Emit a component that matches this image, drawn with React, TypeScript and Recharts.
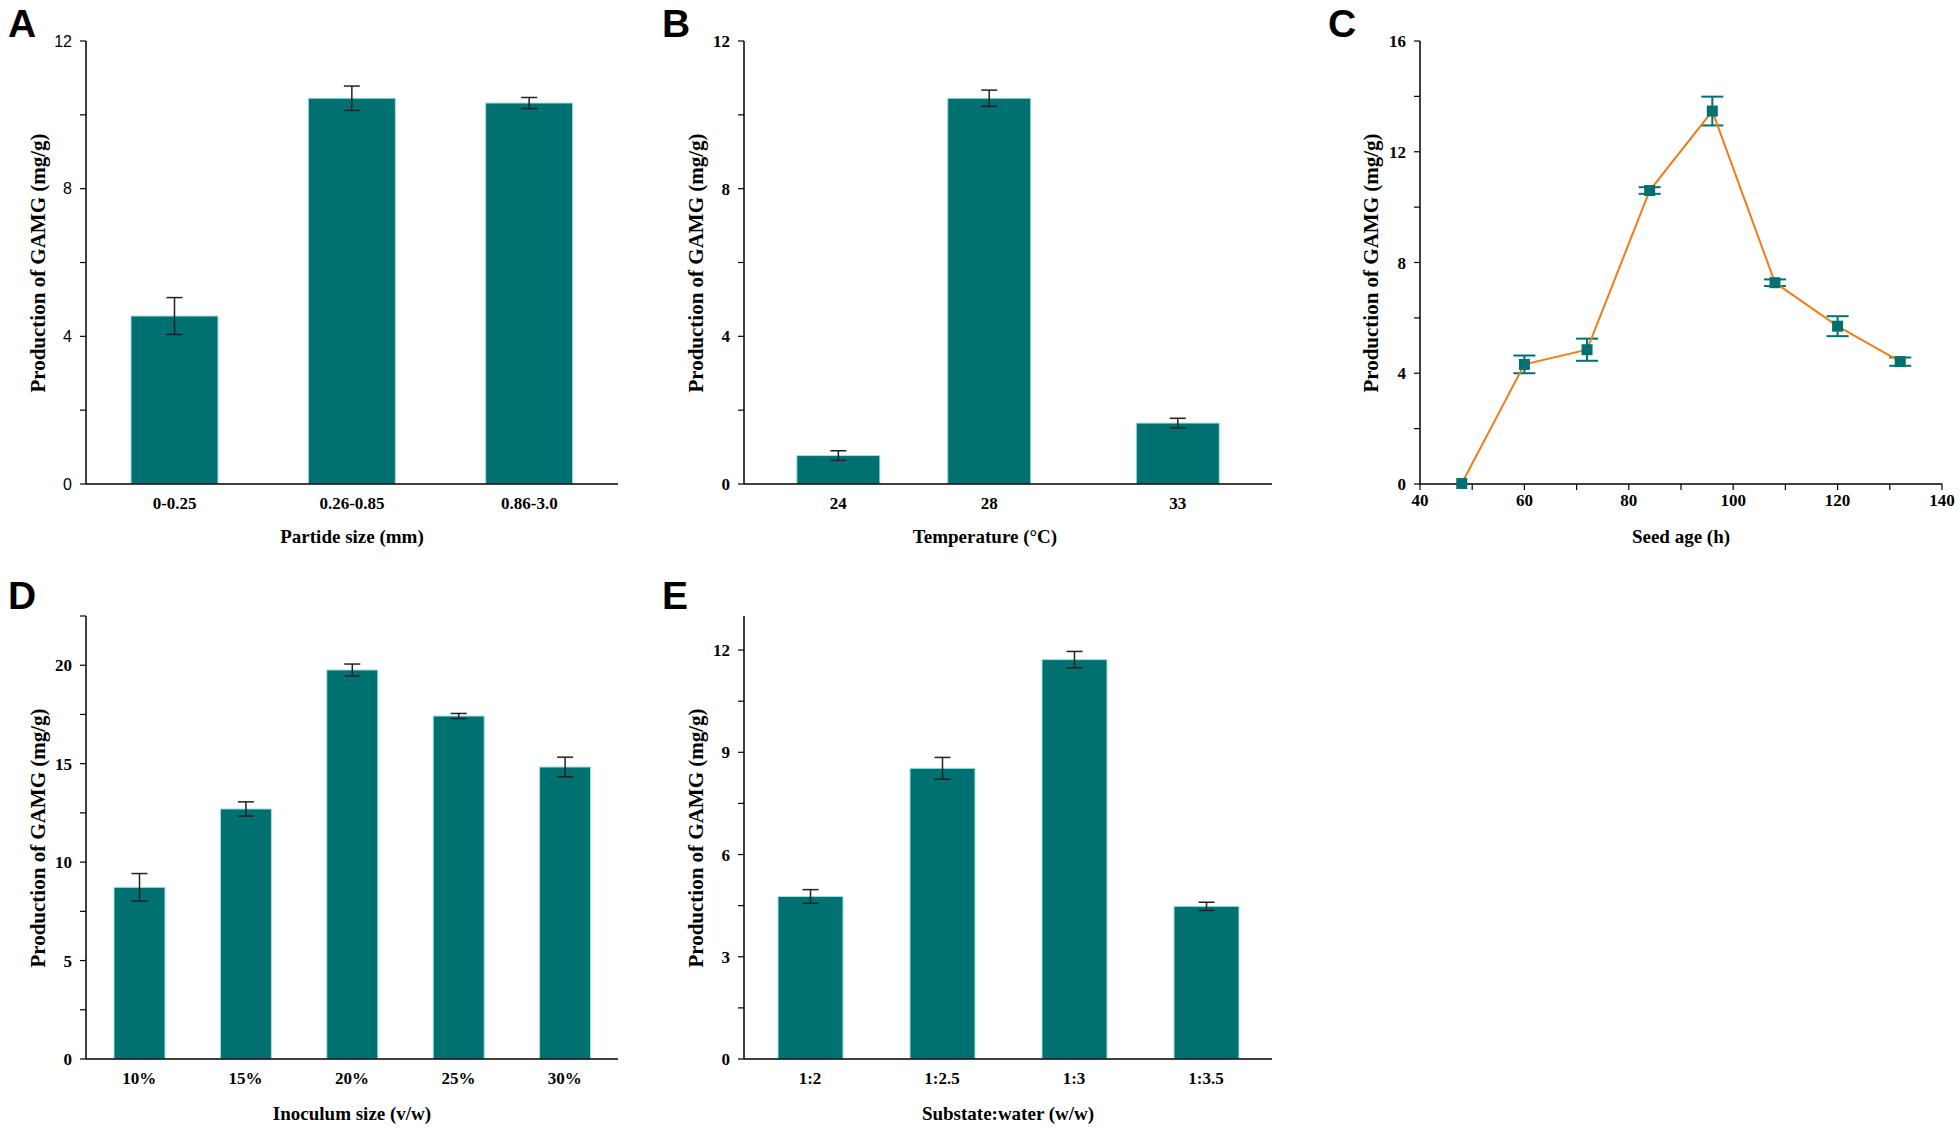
import React from "react"
import { Bar, BarChart, ErrorBar, Line, LineChart, XAxis, YAxis } from "recharts"

const TEAL = "#007070"
const ORANGE = "#f07d19"
const SERIF = '"Liberation Serif", "Times New Roman", serif'
const SANS = '"Liberation Sans", Arial, sans-serif'

// A – particle size
const sizeCats = ["0-0.25", "0.26-0.85", "0.86-3.0"]
const sizeValues = [4.55, 10.45, 10.32]
const sizeErr = [0.5, 0.33, 0.15]
const sizeTicks = [0, 2, 4, 6, 8, 10, 12]

// B – temperature (numeric axis)
const temps = [24, 28, 33]
const tempValues = [0.77, 10.45, 1.65]
const tempErr = [0.13, 0.22, 0.13]
const tempTicks = [24, 28, 33]

// C – seed age
const ages = [48, 60, 72, 84, 96, 108, 120, 132]
const ageValues = [0.02, 4.32, 4.85, 10.6, 13.47, 7.27, 5.7, 4.42]
const ageErr = [0, 0.32, 0.4, 0.12, 0.52, 0.12, 0.36, 0.15]
const ageTicks = [40, 50, 60, 70, 80, 90, 100, 110, 120, 130, 140]
const ageYTicks = [0, 2, 4, 6, 8, 10, 12, 14, 16]

// D – inoculum size
const inocCats = ["10%", "15%", "20%", "25%", "30%"]
const inocValues = [8.72, 12.7, 19.76, 17.42, 14.83]
const inocErr = [0.7, 0.36, 0.3, 0.13, 0.5]
const inocTicks = [0, 2.5, 5, 7.5, 10, 12.5, 15, 17.5, 20, 22.5]

// E – substrate:water
const ratioCats = ["1:2", "1:2.5", "1:3", "1:3.5"]
const ratioValues = [4.77, 8.53, 11.72, 4.48]
const ratioErr = [0.2, 0.32, 0.24, 0.12]
const ratioTicks = [0, 1.5, 3, 4.5, 6, 7.5, 9, 10.5, 12]

const Y_TITLE = "Production of GAMG (mg/g)"

// plot rectangles (page px)
const TOP = { y0: 41, y1: 484 }
const BOT = { y0: 616, y1: 1059 }
const COL_A = { x0: 86, x1: 618 }
const COL_B = { x0: 744, x1: 1272 }
const COL_C = { x0: 1420, x1: 1942 }

const PAD_L = 80
const PAD_T = 20
const PAD_R = 10
const PAD_B = 40
const Y_W = 60
const X_H = 30

type Box = { x0: number; x1: number; y0: number; y1: number }

function frame(b: Box) {
  return {
    style: { position: "absolute" as const, left: b.x0 - PAD_L, top: b.y0 - PAD_T },
    width: b.x1 - b.x0 + PAD_L + PAD_R,
    height: b.y1 - b.y0 + PAD_T + PAD_B,
    margin: { top: PAD_T, left: PAD_L - Y_W, right: PAD_R, bottom: PAD_B - X_H },
  }
}

const axisLine = { stroke: "#000", strokeWidth: 1.5 }
const boldTick = { fill: "#000", fontFamily: SERIF, fontWeight: 700, fontSize: 17 }
const sansTick = { fill: "#000", fontFamily: SANS, fontSize: 16 }

const every = (step: number) => (v: number) =>
  Math.abs(v / step - Math.round(v / step)) < 1e-6 ? String(v) : ""

function BarPanel({
  box,
  data,
  yMax,
  yTicks,
  step,
  yTick,
  numericX,
  barSize,
}: {
  box: Box
  data: { x: string | number; value: number; err: number }[]
  yMax: number
  yTicks: number[]
  step: number
  yTick: object
  numericX?: { domain: [number, number]; ticks: number[] }
  barSize: number
}) {
  const f = frame(box)
  return (
    <div style={f.style}>
      <BarChart width={f.width} height={f.height} data={data} margin={f.margin}>
        {numericX ? (
          <XAxis
            dataKey="x"
            type="number"
            domain={numericX.domain}
            ticks={numericX.ticks}
            interval={0}
            height={X_H}
            axisLine={axisLine}
            tickLine={false}
            tickMargin={7}
            tick={boldTick}
            allowDataOverflow
          />
        ) : (
          <XAxis
            dataKey="x"
            height={X_H}
            axisLine={axisLine}
            tickLine={false}
            tickMargin={7}
            tick={boldTick}
            interval={0}
          />
        )}
        <YAxis
          type="number"
          domain={[0, yMax]}
          ticks={yTicks}
          interval={0}
          width={Y_W}
          axisLine={axisLine}
          tickLine={{ stroke: "#000", strokeWidth: 1.2 }}
          tickSize={6}
          tickMargin={8}
          tick={yTick}
          tickFormatter={every(step)}
          allowDataOverflow
        />
        <Bar dataKey="value" fill={TEAL} stroke="#9fe3e3" strokeWidth={1} barSize={barSize} isAnimationActive={false}>
          <ErrorBar dataKey="err" width={8} stroke="#222" strokeWidth={1.5} direction="y" />
        </Bar>
      </BarChart>
    </div>
  )
}

function SeedAgePanel() {
  const data = ages.map((a, i) => ({ x: a, value: ageValues[i], err: ageErr[i] }))
  const f = frame({ ...COL_C, ...TOP })
  return (
    <div style={f.style}>
      <LineChart width={f.width + 16} height={f.height} data={data} margin={{ ...f.margin, right: PAD_R + 16 }}>
        <XAxis
          dataKey="x"
          type="number"
          domain={[40, 140]}
          ticks={ageTicks}
          interval={0}
          height={X_H}
          axisLine={axisLine}
          tickLine={{ stroke: "#000", strokeWidth: 1.2 }}
          tickSize={6}
          tickMargin={4}
          tick={boldTick}
          tickFormatter={every(20)}
        />
        <YAxis
          type="number"
          domain={[0, 16]}
          ticks={ageYTicks}
          interval={0}
          width={Y_W}
          axisLine={axisLine}
          tickLine={{ stroke: "#000", strokeWidth: 1.2 }}
          tickSize={6}
          tickMargin={8}
          tick={boldTick}
          tickFormatter={every(4)}
        />
        <Line
          dataKey="value"
          stroke={ORANGE}
          strokeWidth={2}
          isAnimationActive={false}
          dot={(p: any) => (
            <rect key={p.index} x={p.cx - 5.5} y={p.cy - 5.5} width={11} height={11} fill={TEAL} />
          )}
        >
          <ErrorBar dataKey="err" width={11} stroke={TEAL} strokeWidth={2} direction="y" />
        </Line>
      </LineChart>
    </div>
  )
}

const letters = [
  { t: "A", x: 8, y: 37 },
  { t: "B", x: 662, y: 37 },
  { t: "C", x: 1328, y: 37 },
  { t: "D", x: 8, y: 609 },
  { t: "E", x: 662, y: 609 },
]

const xTitles = [
  { t: "Partide size (mm)", x: 352, y: 543 },
  { t: "Temperature (°C)", x: 985, y: 543 },
  { t: "Seed age (h)", x: 1681, y: 543 },
  { t: "Inoculum size (v/w)", x: 352, y: 1120 },
  { t: "Substate:water (w/w)", x: 1008, y: 1120 },
]

const yTitles = [
  { x: 38, y: 263 },
  { x: 696, y: 263 },
  { x: 1371, y: 263 },
  { x: 38, y: 838 },
  { x: 696, y: 838 },
]

export default function App() {
  const rows = (cats: (string | number)[], vals: number[], errs: number[]) =>
    cats.map((c, i) => ({ x: c, value: vals[i], err: errs[i] }))

  return (
    <div style={{ position: "absolute", left: 0, top: 0, width: 1960, height: 1130, background: "#fff", overflow: "hidden" }}>
      <BarPanel
        box={{ ...COL_A, ...TOP }}
        data={rows(sizeCats, sizeValues, sizeErr)}
        yMax={12}
        yTicks={sizeTicks}
        step={4}
        yTick={sansTick}
        barSize={87}
      />
      <BarPanel
        box={{ ...COL_B, ...TOP }}
        data={rows(temps, tempValues, tempErr)}
        yMax={12}
        yTicks={sizeTicks}
        step={4}
        yTick={boldTick}
        numericX={{ domain: [21.5, 35.5], ticks: tempTicks }}
        barSize={83}
      />
      <SeedAgePanel />
      <BarPanel
        box={{ ...COL_A, ...BOT }}
        data={rows(inocCats, inocValues, inocErr)}
        yMax={22.5}
        yTicks={inocTicks}
        step={5}
        yTick={boldTick}
        barSize={51}
      />
      <BarPanel
        box={{ ...COL_B, ...BOT }}
        data={rows(ratioCats, ratioValues, ratioErr)}
        yMax={13}
        yTicks={ratioTicks}
        step={3}
        yTick={boldTick}
        barSize={65}
      />
      <svg
        width={1960}
        height={1130}
        style={{ position: "absolute", left: 0, top: 0, pointerEvents: "none" }}
      >
        {letters.map((l) => (
          <text key={l.t} x={l.x} y={l.y} fontFamily={SANS} fontWeight={700} fontSize={39} fill="#000">
            {l.t}
          </text>
        ))}
        {xTitles.map((l) => (
          <text
            key={l.t}
            x={l.x}
            y={l.y}
            textAnchor="middle"
            fontFamily={SERIF}
            fontWeight={700}
            fontSize={19}
            fill="#000"
          >
            {l.t}
          </text>
        ))}
        {yTitles.map((l, i) => (
          <text
            key={i}
            x={l.x}
            y={l.y}
            transform={`rotate(-90 ${l.x} ${l.y})`}
            textAnchor="middle"
            dominantBaseline="central"
            fontFamily={SERIF}
            fontWeight={700}
            fontSize={21}
            fill="#000"
          >
            {Y_TITLE}
          </text>
        ))}
      </svg>
    </div>
  )
}
